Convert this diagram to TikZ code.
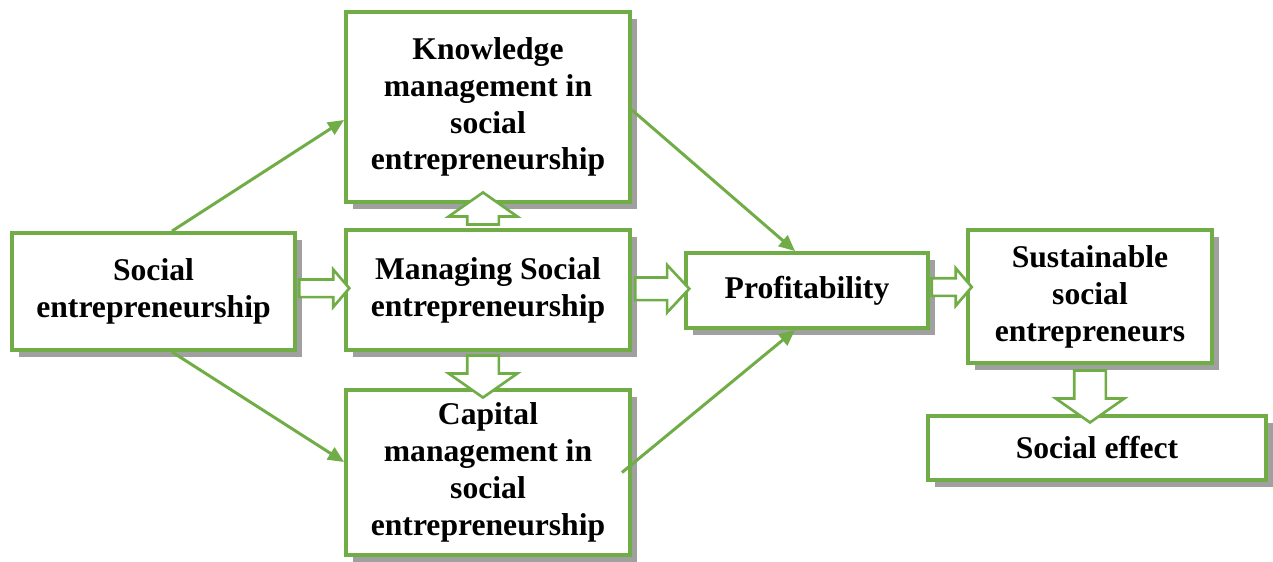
\documentclass[tikz,border=0pt]{standalone}
\usepackage{fontspec}
\setmainfont{Liberation Serif}
\usetikzlibrary{positioning,calc,arrows.meta,shapes.arrows,shadows}
\definecolor{boxgreen}{HTML}{70AD47}
\definecolor{shadowgray}{HTML}{A0A0A0}

\begin{document}
\begin{tikzpicture}
	\useasboundingbox (0,0) rectangle (25.46,-11.22);
	\begin{scope}
		\tikzstyle{every node}=[align=center, inner sep=1pt, font=\fontsize{18pt}{21pt}\selectfont\bfseries]
		\tikzstyle{box}=[draw=boxgreen, line width=2.2pt, fill=white, drop shadow={shadow xshift=0.13cm, shadow yshift=-0.13cm, fill=shadowgray, opacity=1}]
		\tikzstyle{fat}=[single arrow, draw=boxgreen, line width=1.5pt, fill=white, inner xsep=0pt, inner ysep=0.15cm, single arrow head extend=0.2cm, single arrow tip angle=99]
		\tikzstyle{bigfat}=[fat, inner ysep=0.29cm, single arrow head extend=0.37cm, single arrow tip angle=110]
		\tikzstyle{link}=[draw=boxgreen, line width=1.7pt, -{Triangle[length=0.32cm, width=0.28cm]}]

		\node[box, minimum width=5.66cm, minimum height=2.34cm] (se) at (3.07, -5.83) {Social\\entrepreneurship};
		\node[box, minimum width=5.68cm, minimum height=3.8cm] (km) at (9.76, -2.14) {Knowledge\\management in\\social\\entrepreneurship};
		\node[box, minimum width=5.68cm, minimum height=2.4cm] (ms) at (9.76, -5.8) {Managing Social\\entrepreneurship};
		\node[box, minimum width=5.68cm, minimum height=3.3cm] (cm) at (9.76, -9.45) {Capital\\management in\\social\\entrepreneurship};
		\node[box, minimum width=4.84cm, minimum height=1.5cm] (pr) at (16.14, -5.81) {Profitability};
		\node[box, minimum width=4.88cm, minimum height=2.66cm] (ss) at (21.8, -5.93) {Sustainable\\social\\entrepreneurs};
		\node[box, minimum width=6.76cm, minimum height=1.28cm] (sf) at (21.94, -8.96) {Social effect};

		\node[fat, minimum height=1cm] (a1) at ($(se.east)!0.5!(ms.west)+(0,0.05)$) {};
		\node[fat, minimum height=1.08cm, inner ysep=0.2cm, single arrow head extend=0.25cm, single arrow tip angle=94] (a2) at ($(ms.east)!0.5!(pr.west)+(-0.02,0.03)$) {};
		\node[fat, minimum height=0.8cm] (a3) at ($(pr.east)!0.5!(ss.west)+(0,0.13)$) {};
		\node[bigfat, rotate=90, minimum height=0.64cm] (a4) at ($(ms.north)!0.5!(km.south)+(-0.1,0.04)$) {};
		\node[bigfat, rotate=-90, minimum height=0.84cm] (a5) at ($(ms.south)!0.5!(cm.north)+(-0.1,-0.02)$) {};
		\node[bigfat, rotate=-90, minimum height=1.04cm] (a6) at ($(ss.south)+(0,-0.52)$) {};

		\draw [link] ([xshift=0.37cm]se.north) to ([yshift=-0.26cm]km.west);
		\draw [link] ([xshift=0.37cm]se.south) to ([yshift=0.21cm]cm.west);
		\draw [link] ([yshift=-0.06cm]km.east) to ([xshift=-0.24cm]pr.north);
		\draw [link] ([xshift=-0.2cm]cm.east) to ([xshift=-0.24cm]pr.south);
	\end{scope}
\end{tikzpicture}
\end{document}
